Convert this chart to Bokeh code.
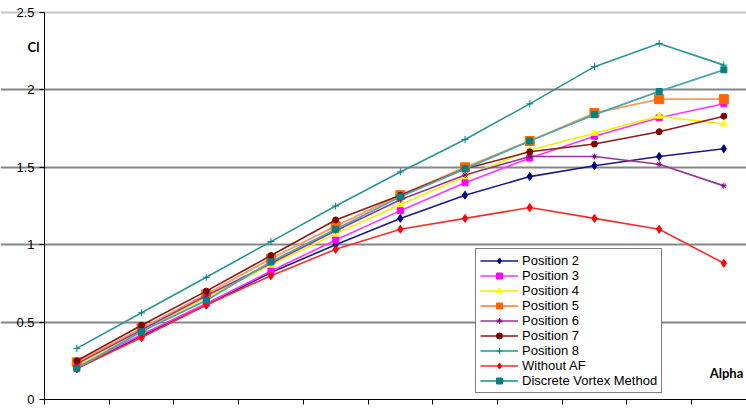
from bokeh.plotting import figure
from bokeh.models import (Range1d, FixedTicker, Legend, LegendItem, Label,
                          Grid, CustomLabelingPolicy)
from bokeh.embed import file_html
from bokeh.resources import INLINE

# Angle of attack (deg) and lift coefficient per configuration
alpha = [0, 2, 4, 6, 8, 10, 12, 14, 16, 18, 20]

pos2 = [0.20, 0.41, 0.61, 0.82, 1.00, 1.17, 1.32, 1.44, 1.51, 1.57, 1.62]
pos3 = [0.21, 0.42, 0.62, 0.83, 1.03, 1.22, 1.40, 1.56, 1.70, 1.82, 1.91]
pos4 = [0.22, 0.44, 0.66, 0.87, 1.07, 1.26, 1.44, 1.61, 1.72, 1.83, 1.78]
pos5 = [0.24, 0.46, 0.68, 0.91, 1.12, 1.32, 1.50, 1.67, 1.85, 1.94, 1.94]
pos6 = [0.23, 0.45, 0.67, 0.88, 1.09, 1.29, 1.45, 1.57, 1.57, 1.52, 1.38]
pos7 = [0.25, 0.48, 0.70, 0.93, 1.16, 1.32, 1.49, 1.60, 1.65, 1.73, 1.83]
pos8 = [0.33, 0.56, 0.79, 1.02, 1.25, 1.47, 1.68, 1.91, 2.15, 2.30, 2.16]
without_af = [0.20, 0.40, 0.61, 0.80, 0.97, 1.10, 1.17, 1.24, 1.17, 1.10, 0.88]
dvm = [0.20, 0.44, 0.64, 0.89, 1.10, 1.31, 1.49, 1.67, 1.84, 1.99, 2.13]

y_ticks = [0, 0.5, 1, 1.5, 2, 2.5]
y_labels = ["0", "0.5", "1", "1.5", "2", "2.5"]

series = [
    ("Position 2", pos2, "#1A1A8C", "#000080", "diamond", 8, 1.6),
    ("Position 3", pos3, "#FF33FF", "#FF00FF", "square", 6, 1.6),
    ("Position 4", pos4, "#F0F000", "#FFFF00", "triangle", 7, 1.6),
    ("Position 5", pos5, "#FF9A5C", "#FF6600", "square", 9, 1.8),
    ("Position 6", pos6, "#993399", "#800080", "asterisk", 6, 1.6),
    ("Position 7", pos7, "#8B1A1A", "#800000", "circle", 6, 1.6),
    ("Position 8", pos8, "#2A9494", "#008080", "cross", 7, 1.6),
    ("Without AF", without_af, "#FF2A2A", "#FF0000", "diamond", 8, 1.6),
    ("Discrete Vortex Method", dvm, "#4FA8A8", "#008080", "square", 6, 1.8),
]

# category-style x axis: one slot per angle, tick marks between slots
step = alpha[1] - alpha[0]
x_lo_axis = alpha[0] - step / 2          # where the value axis sits
x_hi_axis = x_lo_axis + 21.7             # right edge of the plotting area
px_per_x = 64.7 / step                   # slot width in pixels
px_per_y = 154.8

# the frame fills the whole canvas; both axes are pinned inside it
p = figure(
    width=746, height=410,
    output_backend="svg", toolbar_location=None,
    x_range=Range1d(x_lo_axis - 44 / px_per_x, x_lo_axis + 702 / px_per_x),
    y_range=Range1d(-11 / px_per_y, y_ticks[-1] + 12 / px_per_y),
    min_border=0, min_border_left=0, min_border_right=0,
    min_border_top=0, min_border_bottom=0,
)
p.outline_line_color = None
p.background_fill_color = "white"
p.border_fill_color = "white"

# y axis
yax = p.yaxis[0]
yax.fixed_location = x_lo_axis
yax.bounds = (y_ticks[0], y_ticks[-1])
yax.ticker = FixedTicker(ticks=y_ticks)
yax.major_label_overrides = {t: l for t, l in zip(y_ticks, y_labels)}
yax.major_label_text_font = "Liberation Sans"
yax.major_label_text_font_size = "13px"
yax.major_label_text_color = "black"
yax.major_tick_out = 5
yax.major_tick_in = 0
yax.minor_tick_line_color = None
yax.major_label_standoff = 5
yax.axis_line_color = "black"
yax.major_tick_line_color = "black"

# x axis: tick marks only, no labels
xax = p.xaxis[0]
xax.fixed_location = y_ticks[0]
xax.bounds = (x_lo_axis, x_hi_axis)
xax.ticker = FixedTicker(ticks=[a - step / 2 for a in alpha] + [alpha[-1] + step / 2])
xax.major_label_policy = CustomLabelingPolicy(
    code="for (let i = 0; i < indices.size; i++) { indices.unset(i) } return indices")
xax.major_tick_out = 5
xax.major_tick_in = 0
xax.minor_tick_line_color = None
xax.axis_line_color = "black"
xax.major_tick_line_color = "black"

# horizontal grid; the top line is lighter
p.xgrid.visible = False
p.ygrid.ticker = FixedTicker(ticks=y_ticks[1:-1])
p.ygrid.bounds = (x_lo_axis, x_hi_axis)
p.ygrid.grid_line_color = "#858585"
p.ygrid.grid_line_width = 2
p.add_layout(Grid(dimension=1, ticker=FixedTicker(ticks=[y_ticks[-1]]),
                  bounds=(x_lo_axis, x_hi_axis),
                  grid_line_color="#C8C8C8", grid_line_width=2))

items = []
for name, vals, lc, mc, marker, size, lw in series:
    ln = p.line(alpha, vals, line_color=lc, line_width=lw)
    sc = p.scatter(alpha, vals, marker=marker, size=size,
                   fill_color=mc, line_color=mc, line_width=1)
    items.append(LegendItem(label=name, renderers=[ln, sc]))

legend = Legend(
    items=items, location=(475, 17),
    border_line_color="black", border_line_width=1,
    background_fill_color="white", background_fill_alpha=1,
    label_text_font="Liberation Sans", label_text_font_size="13px",
    label_text_color="black",
    padding=4, spacing=0, margin=0,
    glyph_width=38, glyph_height=15, label_height=15, label_standoff=4,
)
p.add_layout(legend, "center")

p.add_layout(Label(x=x_lo_axis - 0.34, y=2.274, text="Cl",
                   text_font="Lato", text_font_style="bold",
                   text_font_size="13px", text_align="center",
                   text_baseline="middle", text_color="black"))
p.add_layout(Label(x=x_hi_axis - 0.1, y=0.168, text="Alpha",
                   text_font="Lato", text_font_style="bold",
                   text_font_size="13px", text_align="right",
                   text_baseline="middle", text_color="black"))

open("out.html", "w").write(file_html(p, INLINE))
